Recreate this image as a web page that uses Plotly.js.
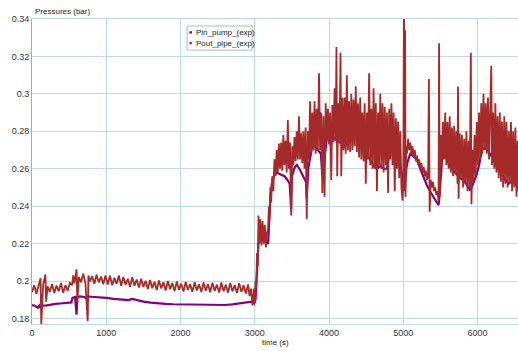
<!DOCTYPE html>
<html>
<head>
<meta charset="utf-8">
<script src="https://cdn.plot.ly/plotly-3.0.1.min.js"></script>
<style>html,body{margin:0;padding:0;background:#fff;}#chart{width:518px;height:351px;}</style>
</head>
<body>
<div id="chart"></div>
<script>
// ---- Series names / colours ----
const seriesNames = ['Pin_pump_(exp)', 'Pout_pipe_(exp)'];
const seriesColors = ['#800080', '#a52a2a'];

// ---- Axis ticks ----
const xTickVals = [0, 1000, 2000, 3000, 4000, 5000, 6000];
const xTickText = ['0', '1000', '2000', '3000', '4000', '5000', '6000'];
const yTickVals = [0.18, 0.2, 0.22, 0.24, 0.26, 0.28, 0.3, 0.32, 0.34];
const yTickText = ['0.18', '0.2', '0.22', '0.24', '0.26', '0.28', '0.3', '0.32', '0.34'];

// ---- Pin_pump_(exp): time (s) / pressure (bar) ----
const pinT = [
  0,40,80,100,120,140,200,260,320,380,
  440,500,530,545,580,600,610,650,700,750,
  760,800,900,1000,1100,1200,1300,1350,1400,1500,
  1600,1700,1800,1900,2000,2200,2400,2500,2600,2700,
  2800,2900,2960,2990,3010,3030,3050,3080,3120,3160,
  3180,3190,3210,3230,3260,3290,3320,3360,3400,3440,
  3470,3490,3500,3540,3567,3600,3650,3690,3700,3720,
  3769,3810,3850,3890,3910,3930,3970,4000,4040,4080,
  4120,4160,4196,4230,4286,4330,4370,4420,4460,4500,
  4555,4600,4645,4690,4740,4780,4800,4825,4860,4915,
  4960,5004,5020,5040,5060,5094,5130,5184,5229,5274,
  5319,5360,5409,5450,5476,5490,5499,5521,5543,5580,
  5633,5678,5720,5768,5810,5858,5903,5940,5980,6015,
  6060,6105,6150,6195,6262,6330,6375,6420,6470,6500,
  6550
];
const pinP = [
  .1872,.1868,.1858,.1870,.1855,.1868,.1870,.1875,.1878,.1880,
  .1882,.1885,.1886,.1910,.1915,.1820,.1915,.1918,.1915,.1905,
  .1918,.1916,.1915,.1910,.1905,.1900,.1898,.1905,.1900,.1890,
  .1885,.1880,.1878,.1876,.1875,.1873,.1872,.1870,.1872,.1875,
  .1880,.1885,.1890,.1880,.1900,.2050,.2200,.2230,.2220,.2210,
  .2200,.2320,.2450,.2520,.2565,.2580,.2575,.2570,.2560,.2540,
  .2520,.2380,.2560,.2610,.2620,.2600,.2560,.2530,.2440,.2600,
  .2710,.2720,.2700,.2680,.2560,.2640,.2760,.2785,.2780,.2760,
  .2745,.2740,.2715,.2730,.2785,.2797,.2775,.2740,.2720,.2690,
  .2650,.2615,.2600,.2615,.2600,.2600,.2650,.2705,.2690,.2650,
  .2620,.2520,.2490,.2600,.2640,.2680,.2670,.2650,.2600,.2550,
  .2510,.2480,.2450,.2420,.2405,.2470,.2540,.2640,.2680,.2660,
  .2610,.2590,.2570,.2548,.2540,.2512,.2485,.2520,.2560,.2610,
  .2700,.2715,.2690,.2665,.2610,.2566,.2540,.2520,.2540,.2520,
  .2510
];

// ---- Pout_pipe_(exp): time (s) / pressure (bar), low phase ----
const poutT1 = [
  0,30,60,90,115,125,150,180,190,210,
  240,270,300,330,360,390,420,450,480,510,
  540,555,570,600,610,630,660,690,720,750,
  760,780,810,840,870,900,930,960,990
];
const poutP1 = [
  .1940,.1978,.1932,.1972,.2015,.1770,.1980,.2035,.1890,.1972,
  .1942,.1985,.1936,.1976,.1946,.1988,.1937,.1978,.1948,.1990,
  .1978,.2030,.1988,.2063,.1885,.2022,.1994,.2040,.1986,.1785,
  .2030,.1998,.2025,.1986,.2034,.1992,.2024,.1983,.2030
];
const poutT2 = [
  1020,1050,1080,1110,1140,1170,1200,1230,1260,1290,
  1320,1350,1380,1410,1440,1470,1500,1530,1560,1590,
  1620,1650,1680,1710,1740,1770,1800,1830,1860,1890,
  1920,1950,1980,2010,2040,2070,2100,2130,2160,2190,
  2220,2250,2280,2310,2340,2370,2400,2430,2460,2490,
  2520,2550,2580,2610,2640,2670,2700,2730,2760,2790,
  2820,2850,2880,2910
];
const poutP2 = [
  .1982,.2028,.1978,.2018,.1985,.2030,.1975,.2022,.1980,.2012,
  .1970,.2020,.1975,.2008,.1966,.2012,.1968,.2002,.1958,.2006,
  .1962,.1996,.1952,.2003,.1960,.1994,.1950,.2000,.1956,.1990,
  .1946,.1998,.1954,.1986,.1944,.1995,.1952,.1984,.1942,.1994,
  .1950,.1983,.1941,.1992,.1948,.1984,.1940,.1991,.1947,.1981,
  .1939,.1992,.1946,.1980,.1938,.1990,.1945,.1979,.1936,.1988,
  .1943,.1977,.1934,.1982
];
// ---- Pout_pipe_(exp): high phase ----
const poutT3 = [
  2930,2950,2970,2990,3000,3010,3020,3030,3040,3050,
  3060,3075,3090,3105,3120,3135,3150,3165,3180,3190,
  3200,3210,3220,3235,3250,3265,3280,3295,3310,3325,
  3340,3355,3370,3385,3400,3415,3430,3445,3460,3475,
  3490,3505,3520,3535,3550,3565,3580,3595,3610,3625,
  3640,3655,3670,3685,3700,3715,3730,3745,3760,3775,
  3790,3805,3820,3835,3850,3865,3880,3895,3910,3925,
  3940,3955,3970,3985,4000,4015,4030,4045,4060,4075,
  4090,4100,4110,4125,4140,4155,4165,4180,4195,4210,
  4225,4240,4255,4270,4285,4300,4315,4330,4345,4360,
  4375,4390,4405,4420,4435,4450,4465,4480,4495,4510,
  4525,4540,4555,4570,4585,4600,4615,4630,4645,4660,
  4675,4690,4705,4720,4735,4750,4765,4780,4795,4810,
  4825,4840,4855,4870,4885,4900,4915,4930,4945,4960,
  4975,4990,5000,5010,5015,5025,5030,5040,5050,5065
];
const poutP3 = [
  .1920,.1960,.1870,.1960,.1880,.2000,.1960,.2150,.2080,.2350,
  .2200,.2330,.2190,.2320,.2200,.2300,.2180,.2260,.2280,.2400,
  .2330,.2500,.2420,.2560,.2480,.2650,.2560,.2700,.2580,.2735,
  .2600,.2740,.2590,.2780,.2620,.2750,.2580,.2860,.2600,.2740,
  .2350,.2720,.2620,.2770,.2640,.2800,.2650,.2880,.2650,.2790,
  .2630,.2800,.2600,.2820,.2330,.2800,.2650,.2960,.2680,.2900,
  .2700,.2960,.2680,.2920,.2700,.3110,.2700,.2900,.2470,.2880,
  .2450,.2950,.2750,.2920,.2730,.2900,.2540,.2940,.2740,.3030,
  .2750,.3250,.2560,.2950,.2750,.3220,.2560,.2980,.2700,.2980,
  .2680,.3100,.2700,.2960,.2690,.3000,.2700,.2970,.2720,.3040,
  .2690,.2950,.2660,.2980,.2650,.2900,.2640,.2950,.2520,.2900,
  .2650,.3110,.2620,.2920,.2600,.3030,.2600,.2950,.2480,.2900,
  .2620,.3000,.2600,.2950,.2580,.2930,.2620,.2900,.2470,.2920,
  .2650,.2950,.2620,.2900,.2480,.2870,.2600,.2850,.2550,.2800,
  .2500,.2430,.2520,.3600,.2480,.3340,.2450,.2720,.2680,.2760
];
const poutT4 = [
  5080,5095,5110,5125,5140,5155,5170,5185,5200,5215,
  5230,5245,5260,5275,5290,5305,5320,5335,5345,5355,
  5370,5385,5400,5415,5430,5445,5460,5475,5482,5490,
  5500,5510,5520,5535,5550,5565,5580,5595,5610,5625,
  5640,5655,5670,5685,5700,5715,5730,5737,5745,5760,
  5775,5790,5805,5820,5835,5850,5865,5880,5895,5910,
  5918,5930,5945,5960,5975,5990,6005,6020,6035,6050,
  6065,6080,6095,6110,6125,6140,6155,6170,6185,6195,
  6210,6225,6240,6255,6270,6285,6300,6315,6330,6345,
  6360,6375,6390,6405,6420,6435,6450,6465,6480,6495,
  6510,6525,6540,6550
];
const poutP4 = [
  .2700,.2740,.2680,.2720,.2660,.2700,.2640,.2670,.2620,.2650,
  .2600,.2630,.2580,.2610,.2560,.2590,.2540,.2570,.3080,.2370,
  .2540,.2500,.2530,.2480,.2500,.2460,.2480,.2430,.3270,.2450,
  .2600,.2780,.2620,.2850,.2650,.2900,.2620,.2850,.2600,.2880,
  .2580,.2820,.2560,.2830,.2570,.2800,.2520,.3040,.2440,.2790,
  .2550,.2780,.2500,.2760,.2520,.2800,.2480,.2750,.2500,.3220,
  .2410,.2700,.2530,.2780,.2560,.2850,.2620,.2900,.2650,.2950,
  .2680,.3000,.2700,.2950,.2680,.2980,.2650,.2950,.3150,.2620,
  .2900,.2600,.2950,.2580,.2880,.2550,.2900,.2530,.2850,.2500,
  .2880,.2520,.2850,.2500,.2800,.2520,.2850,.2480,.2800,.2500,
  .2820,.2450,.2750,.2480
];

const poutT = poutT1.concat(poutT2, poutT3, poutT4);
const poutP = poutP1.concat(poutP2, poutP3, poutP4);

const FONT = 'Liberation Sans, Arial, sans-serif';
const gridC = '#bdd7f1';

const traces = [
  {x: pinT, y: pinP, type: 'scatter', mode: 'lines', name: seriesNames[0],
   line: {color: seriesColors[0], width: 2.2}},
  {x: poutT, y: poutP, type: 'scatter', mode: 'lines', name: seriesNames[1],
   line: {color: seriesColors[1], width: 1.8}}
];

// legend box in paper coordinates
const L = {x0: 0.319, x1: 0.4527, y0: 0.898, y1: 0.977};
const legendRows = [0.956, 0.921];

const shapes = [
  {type: 'rect', xref: 'paper', yref: 'paper', x0: L.x0, x1: L.x1, y0: L.y0, y1: L.y1,
   line: {color: '#a9bccf', width: 1}, fillcolor: 'rgba(255,255,255,1)', layer: 'above'}
];
const annotations = [
  {text: 'Pressures (bar)', xref: 'paper', yref: 'paper', x: 0.002, y: 1.023,
   xanchor: 'left', yanchor: 'middle', showarrow: false, font: {family: FONT, size: 8, color: '#222'}},
  {text: 'time (s)', xref: 'paper', yref: 'paper', x: 0.5, y: -0.062,
   xanchor: 'center', yanchor: 'middle', showarrow: false, font: {family: FONT, size: 8, color: '#222'}}
];
seriesNames.forEach((n, i) => {
  const yc = legendRows[i];
  shapes.push({type: 'rect', xref: 'paper', yref: 'paper',
    x0: 0.3195 + 0.0045, x1: 0.3195 + 0.0095, y0: yc - 0.004, y1: yc + 0.004,
    line: {width: 0}, fillcolor: seriesColors[i], layer: 'above'});
  annotations.push({text: n, xref: 'paper', yref: 'paper', x: 0.3335, y: yc,
    xanchor: 'left', yanchor: 'middle', showarrow: false,
    font: {family: FONT, size: 8, color: '#222'}});
});

const layout = {
  width: 518, height: 351,
  margin: {l: 32, r: 0, t: 19, b: 27, pad: 0},
  paper_bgcolor: '#ffffff', plot_bgcolor: '#ffffff',
  showlegend: false,
  font: {family: FONT, size: 9, color: '#333'},
  xaxis: {range: [0, 6545], tickvals: xTickVals, ticktext: xTickText,
    showgrid: true, gridcolor: gridC, gridwidth: 1, zeroline: false,
    showline: true, linecolor: gridC, linewidth: 1, mirror: true, ticks: '',
    tickfont: {family: FONT, size: 9, color: '#333'}},
  yaxis: {range: [0.17706, 0.34], tickvals: yTickVals, ticktext: yTickText,
    showgrid: true, gridcolor: gridC, gridwidth: 1, zeroline: false,
    showline: true, linecolor: '#8cafd9', linewidth: 1, ticks: '',
    tickfont: {family: FONT, size: 9, color: '#333'}},
  shapes: shapes,
  annotations: annotations
};

Plotly.newPlot('chart', traces, layout, {staticPlot: true, displayModeBar: false});
</script>
</body>
</html>
